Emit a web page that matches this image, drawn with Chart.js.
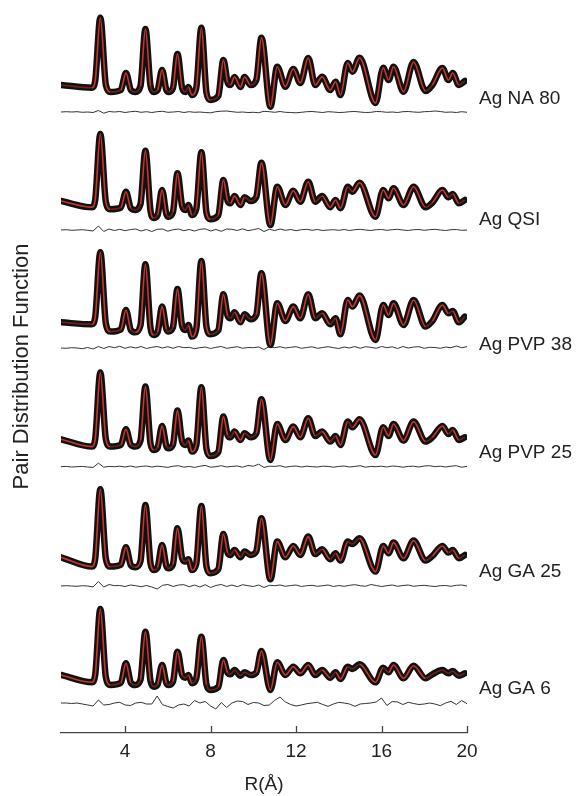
<!DOCTYPE html>
<html>
<head>
<meta charset="utf-8">
<script src="https://cdn.jsdelivr.net/npm/chart.js@4"></script>
<style>html,body{margin:0;background:#fff}</style>
</head>
<body>
<canvas id="c" width="579" height="796"></canvas>
<script>
const FONT = '"Liberation Sans", Arial, Helvetica, sans-serif';

const samples = ['Ag NA 80', 'Ag QSI', 'Ag PVP 38', 'Ag PVP 25', 'Ag GA 25', 'Ag GA 6'];
const xTicks = [4, 8, 12, 16, 20];

// vertical shift of each curve and of its difference trace
const offsets = [648, 532, 410.7, 293.7, 175.7, 58];
const diffOffsets = [621, 503, 385, 266.3, 147, 30];

// r (Å) of the peaks, peak feet and troughs
const rKnots = [1.0, 2.45, 2.6, 2.84, 3.1, 3.31, 3.8, 4.04, 4.27, 4.48,
  4.72, 4.95, 5.19, 5.34, 5.52, 5.73, 5.93, 6.03, 6.24, 6.45,
  6.67, 6.82, 6.96, 7.13, 7.33, 7.57, 7.81, 7.99, 8.36, 8.6,
  8.8, 8.93, 9.12, 9.4, 9.59, 9.87, 10.14, 10.38, 10.8,
  11.12, 11.5, 11.87, 12.2, 12.57, 12.9, 13.22, 13.6, 13.85, 14.08,
  14.42, 14.64, 14.97, 15.72, 16.08, 16.33, 16.56, 17.03, 17.5, 18.06,
  18.38, 18.85, 19.13, 19.33, 19.62, 19.9];

const gNA80 = [0, -2.7, 4, 67.3, 0, -7, -5, 12, -5, -7,
  -1, 56, -1, -7, -5, 15, -5, -7, -3, 31,
  -3, -7, -2, -10, -3, 57.3, -8, -15, -11, 25,
  2.5, 0, 8, -2, 8, 0, 5, 47.3, -21.7,
  18.3, -1.7, 16, 2, 27, 0, 8.3, -5, 3.3, -10,
  22, 13.3, 27.3, -18, 17.3, 5, 18.3, -6.7, 23, -6,
  0, 17, 5, 12, 0, 4];
const gQSI = [0, -6.3, 1, 67, -1, -8.3, -6.5, 9.3, -7.2, -9,
  -3, 50.3, -10, -17, -14.2, 11, -13, -15.7, -11, 27.7,
  -5, -9, -4, -14, -8, 48.7, -12, -18.3, -14.4, 21,
  0, -2.3, 5, -4, 3.7, 0, 4, 38.3, -24,
  14.3, -4, 10.3, -0.7, 19.3, -0.7, 5, -6.3, 1, -7.3,
  14.3, 9.3, 18.3, -15.7, 11, 2.7, 12.7, -4, 14.3, -6.3,
  -1.7, 11, 3.7, 7, -2.3, 1];
const gPVP38 = [0, -2, 5, 70, -1.4, -9.3, -7.2, 12.3, -7.8, -10,
  -3, 58, -5.6, -12.7, -9.9, 15.7, -6.8, -9.3, -5, 33.3,
  -3.6, -7.7, -2.7, -14.3, -6.7, 61.3, -4.7, -12, -8, 28,
  6.4, 4, 10, 0, 8, 3, 7.6, 49, -22.7,
  19, 1.3, 15.7, 4, 28, 4, 9, -2, 4, -12,
  22.3, 15.7, 26.7, -17.7, 17.3, 7.3, 19, -2.7, 22.3, -4.3,
  1.3, 17.3, 9, 11.3, 0, 5.7];
const gPVP25 = [0, -7.3, 0, 66.7, 0, -7.3, -5.6, 10, -5.6, -7.3,
  -1.3, 52.7, -4.4, -10.7, -8.3, 13.3, -6.8, -9, -5.2, 28.7,
  -2.3, -5.7, -1.3, -12.3, -5.9, 52, -9.8, -16.7, -12.8, 22.7,
  4, 2, 7.7, -0.7, 6, 2, 5.8, 40, -20.7,
  15.3, -0.7, 12.7, 2, 21, 3.3, 7.7, -2.3, 3.3, -5.7,
  17.7, 12, 20, -15.7, 12, 3.3, 15.3, -1.3, 17.7, -2.3,
  2, 13.3, 5.3, 9.3, -0.7, 2];
const gGA25 = [0, -9.3, -1.6, 68, -1.6, -9.3, -7.4, 10, -8, -10,
  -3.8, 52.3, -6.2, -12.7, -10.2, 12.3, -8.7, -11, -7, 29,
  -1, -4.3, -2, -12.7, -6.3, 51.3, -9.3, -16, -12, 23.3,
  4.4, 2.3, 7.3, 0, 5.7, 2.3, 6, 39, -22,
  15.7, 0, 11.3, 2.3, 20.7, 3.3, 8, -2, 4, -3.3,
  15.7, 13.3, 19, -14.3, 11.3, 4, 14.7, -1, 16.7, -3.3,
  1.3, 11.3, 4.7, 7.3, -1, 2.3];
const gGA6 = [0, -7.3, 0, 66, -2.4, -10, -7.8, 11.7, -7.8, -10,
  -4.7, 43.3, -6.2, -11.7, -9.5, 10, -8, -10, -6.7, 23.3,
  -0.1, -2.7, 0, -8.3, -3.6, 38.3, -9.7, -15, -12, 15,
  2.1, 0.7, 5, -0.7, 2.7, 0, 2.4, 24, -15,
  12.7, 0, 8.3, 1.7, 10, 0, 5, -2.7, 2.7, -4,
  8.3, 6, 10.7, -7.3, 7.3, 2.7, 10, -3.3, 9.3, -3.3,
  0.7, 5, 1.7, 4, -0.7, 1.7];

// difference (data - fit), sampled every 0.25 Å from 1 to 20
const diffR = [];
for (let k = 0; k <= 76; k++) diffR.push(1 + k * 0.25);

const dNA80 = [0, 0.3, 0, 0.3, -0.3, 0, -0.5, 1.5, -1.2, 0.5, 0, 0.5, -0.5, 0.3, 0.7, -0.3,
  0.3, -0.5, 0.3, 0.7, -0.3, 0, 0.5, -0.5, 0.3, -0.3, 0, -0.5, -0.8, 0.3, 0.8, 1,
  0.3, -0.3, 0, -0.5, -0.3, -0.7, 0.7, 0.3, -0.3, 0.5, -0.3, -0.5, -0.8, -0.3, 0.3, 0.5,
  0, -0.5, 0.3, 0, -0.5, -0.3, 0.3, 0.5, 0, -0.5, -0.3, 0.5, 0.3, -0.3, 0, -0.5,
  0.3, 0.5, 0, -0.3, 0.3, 0.5, 1, 0.5, -0.3, 0, -0.5, 0.3, -0.3];
const dQSI = [0, 0.3, -0.3, 0, 0.3, -0.3, -1, 4, -1.5, 1, -0.5, 0.7, -0.7, 0.5, 1, -1,
  0.5, -1.5, 0.7, 1, -1.2, 0.3, 1, -0.7, 0.5, -1, 0.7, 1.2, -1, 0.5, -1.3, 1,
  0.7, -0.5, 1.2, -0.7, 0.3, 1.5, -1.5, 0.7, -0.5, 1, -0.3, 0.5, -0.7, 0.3, 0.7, -0.3,
  0.5, -0.5, 0, 0.3, -0.3, 0.5, -0.5, 0.3, 0.7, 0, -0.5, 0.3, 0.5, -0.3, 0.3, 0.7,
  0, -0.5, 0.3, 0.5, -0.3, 0.3, 0.7, 0, -0.5, 0.3, 0.5, -0.3, 0];
const dPVP38 = [0, -0.3, 0.3, 0, -0.7, 0.5, -1, 1.5, -0.5, 1.5, 0.3, 1.7, -0.3, 1.2, 0, 1.5,
  -0.5, 0.7, 1.5, 0, 1.3, -0.3, 1.5, 0.3, 0.7, -0.7, 0.3, 1, -0.5, 0.7, 1.5, -0.3,
  0.5, 1.3, -0.3, 0.5, 0.3, 1, -1.5, 1.5, 0.3, 1.3, 0, 0.7, 1.3, -0.3, 0.5, 1.2,
  -0.3, 0.5, 1.3, 0.3, -0.5, 1, 0, 1.5, -0.3, 1.3, 0.7, -0.3, 1.5, 0.3, 1.2, -0.5,
  1.5, 0, 1, 1.3, -0.3, 0.7, 0.5, -0.3, 1, 0.3, 2, 0.3, 1.3];
const dPVP25 = [0, 0.3, -0.3, 0, 0.3, -0.3, -0.7, 3.5, -0.5, 0.3, 0, 0.5, -0.3, 0.7, -0.5, 0.3,
  0.7, -0.3, 0.5, 0, -0.7, 0.5, 1, -0.5, 0.3, -0.7, 0.5, 1.3, -0.5, 0, 1, -0.3,
  0.3, 0.7, -0.5, 1.2, 0.5, 2.5, -0.7, 0.5, 0.3, 1, -0.5, 0.3, 0.7, -0.3, 0.5, 0,
  -0.3, 0.5, 0.3, -0.5, 0.3, 0.7, -0.3, 0.3, 1, -0.5, 0.3, 0, 0.5, -0.3, 0.7, 0.3,
  -0.5, 0.3, 0.5, -0.3, 0.7, 1, 0, 0.5, -0.3, 0.5, 1, -0.5, 0.3];
const dGA25 = [0, 0.3, 0, -0.3, 0.3, 0, -1, 4.5, -1, 1.5, 0.3, 0.5, -0.5, 1, 0.3, -0.7,
  0.5, -1, -3, 0.7, 1.5, -0.5, 1, 1.3, -0.7, 1, -1, 1.3, -1.5, 0.5, 1.5, -0.5,
  1, -0.7, 1.3, 0.3, -0.5, 1, -1.5, 0.7, 0.3, 1, -0.3, 0.5, 1, -0.5, 0.3, 0.7,
  -0.3, 0.3, 1, -0.5, 0.5, -0.3, 0.7, 1.3, 0.3, -0.3, 1.5, 0.5, -0.5, 0.3, 1, -0.3,
  0.5, 1, -0.3, 0.3, 0.7, 0, -0.5, 0.3, 0.5, -0.3, 0.7, 1, 0];
const dGA6 = [0, 0, -0.5, 0, -1, -2, -3, 3, -2, -1.5, 0, 0.7, -2, -2.5, 0, 0.7,
  -1, -1, 7, -1.7, -3.5, -5, -2, -1, -3, 2.5, 0, 1.5, -3, -6, 0.5, -4.5,
  0, 2, 1.5, -1.5, 0.5, 0, -2.5, -2, 2.7, 6, 1, -1.5, -3, -2, -0.7, 0,
  0.7, -1.5, -3.3, -1, 0.7, 0, -1, -3.3, -1, -0.5, 0, 1, 5, -2.5, 1.5, 1,
  -1.5, 0.7, -0.5, -1.5, -1, 0, -1, -2.7, 0, 1.7, -1.5, 2.5, -0.7];

const curves = [gNA80, gQSI, gPVP38, gPVP25, gGA25, gGA6];
const diffs = [dNA80, dQSI, dPVP38, dPVP25, dGA25, dGA6];

// fit line shows red on steep parts, nearly hidden in the dense flat stretches
const fitColour = c => Math.abs(c.p1.parsed.y - c.p0.parsed.y) > 6 ? '#c8362e' : '#6e201b';

const datasets = [];
samples.forEach((name, i) => {
  const pts = rKnots.map((r, j) => ({x: r, y: offsets[i] + curves[i][j]}));
  datasets.push({label: name + ' fit', data: pts, order: 0, borderColor: '#c8362e', borderWidth: 1.6,
    cubicInterpolationMode: 'monotone', pointRadius: 0, segment: {borderColor: fitColour}});
  datasets.push({label: name, data: pts, order: 1, borderColor: '#111', borderWidth: 6.5,
    cubicInterpolationMode: 'monotone', pointRadius: 0, borderJoinStyle: 'round', borderCapStyle: 'round'});
  datasets.push({label: name + ' diff', data: diffR.map((r, j) => ({x: r, y: diffOffsets[i] + diffs[i][j]})),
    order: 2, borderColor: '#333', borderWidth: 1, tension: 0, pointRadius: 0});
});

// upward tick marks and sample names on the right
const labelNudge = [0, 4, 10, 0, 0, 0];
const annotate = {
  id: 'annotate',
  afterDraw(chart) {
    const {ctx, scales: {x, y}} = chart;
    ctx.save();
    ctx.strokeStyle = '#444';
    ctx.lineWidth = 1.3;
    xTicks.forEach(v => {
      const px = Math.round(x.getPixelForValue(v)) + 0.5;
      ctx.beginPath(); ctx.moveTo(px, x.top); ctx.lineTo(px, x.top - 7); ctx.stroke();
    });
    ctx.fillStyle = '#222';
    ctx.font = '19px ' + FONT;
    ctx.textBaseline = 'middle';
    samples.forEach((name, i) => {
      ctx.fillText(name, x.right + 12, y.getPixelForValue((offsets[i] + diffOffsets[i]) / 2) + labelNudge[i]);
    });
    ctx.restore();
  }
};

new Chart(document.getElementById('c'), {
  type: 'line',
  data: {datasets},
  options: {
    responsive: false, animation: false, devicePixelRatio: 1,
    layout: {padding: {left: 0, right: 112, top: 0, bottom: 0}},
    plugins: {legend: {display: false}, tooltip: {enabled: false}},
    scales: {
      x: {
        type: 'linear', min: 1, max: 20,
        afterBuildTicks: s => { s.ticks = xTicks.map(v => ({value: v})); },
        afterFit: s => { s.height = 63; },
        grid: {display: false, drawTicks: false},
        border: {display: true, color: '#444', width: 1.3},
        ticks: {color: '#222', font: {size: 19, family: FONT}, padding: 7, maxRotation: 0},
        title: {display: true, text: 'R(Å)', color: '#222', font: {size: 19, family: FONT}, padding: {top: 0, bottom: 0}}
      },
      y: {
        min: 0, max: 733,
        afterFit: s => { s.width = 61; },
        ticks: {display: false},
        grid: {display: false},
        border: {display: false},
        title: {display: true, text: 'Pair Distribution Function', color: '#222', font: {size: 22, family: FONT}, padding: {top: 9, bottom: 0}}
      }
    }
  },
  plugins: [annotate]
});
</script>
</body>
</html>
